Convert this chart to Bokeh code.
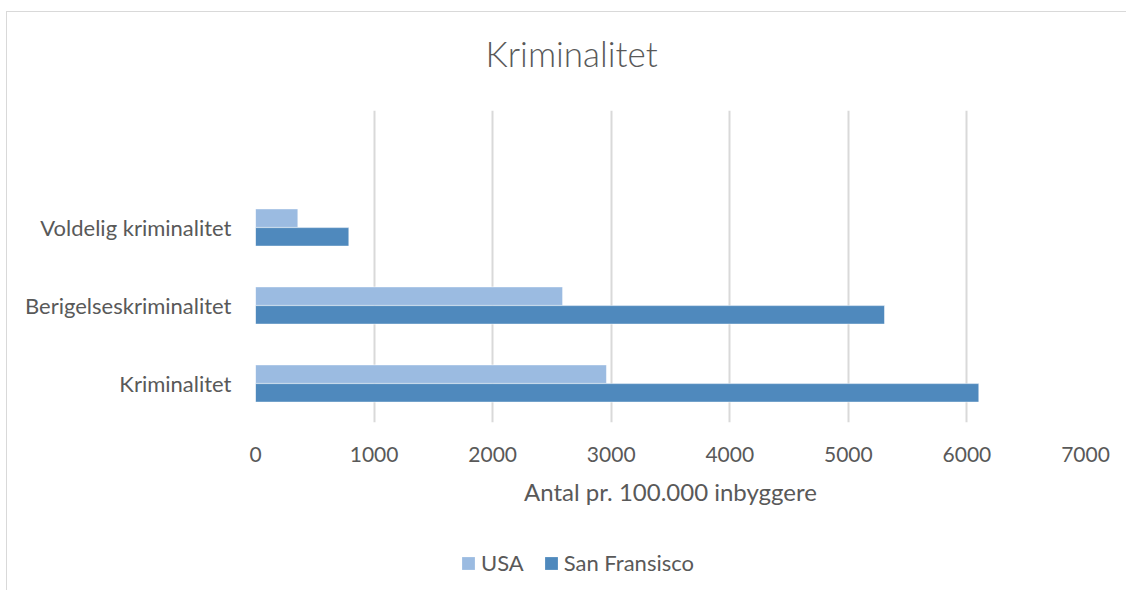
from bokeh.plotting import figure
from bokeh.layouts import column
from bokeh.models import ColumnDataSource, Legend, LegendItem, FixedTicker, Range1d
from bokeh.embed import file_html
from bokeh.resources import INLINE

# ---- data ----
categories = ["Kriminalitet", "Berigelseskriminalitet", "Voldelig kriminalitet"]
usa = [2960, 2590, 357]
san_fransisco = [6100, 5305, 787]
x_ticks = [0, 1000, 2000, 3000, 4000, 5000, 6000, 7000]
series_names = ["USA", "San Fransisco"]
chart_title = "Kriminalitet"
x_title = "Antal pr. 100.000 inbyggere"

FONT = "Lato"
TITLE_FONT = "Lato Light"
GRAY = "#595959"
C_USA = "#9BBBE1"
C_SF = "#4F89BD"

pos = [i + 0.5 for i in range(len(categories))]
src_usa = ColumnDataSource(dict(y=[p_ + 0.12 for p_ in pos], right=usa))
src_sf = ColumnDataSource(dict(y=[p_ - 0.12 for p_ in pos], right=san_fransisco))

# ---- title strip ----
tf = figure(width=1119, height=95, output_backend="svg", toolbar_location=None,
            x_range=Range1d(0, 1), y_range=Range1d(0, 1),
            x_axis_type=None, y_axis_type=None, min_border=0)
tf.outline_line_color = None
tf.grid.grid_line_color = None
tf.title.text = chart_title
tf.title.text_font = TITLE_FONT
tf.title.text_font_size = "35px"
tf.title.text_font_style = "normal"
tf.title.text_color = GRAY
tf.title.align = "left"
tf.title.offset = 230
tf.title.standoff = 35

# ---- main chart ----
p = figure(frame_width=830, frame_height=312, output_backend="svg", toolbar_location=None,
           x_range=Range1d(0, 7000), y_range=Range1d(0, 4),
           min_border_left=248, min_border_right=41, min_border_top=3,
           min_border_bottom=98)

r_usa = p.hbar(y="y", right="right", left=0, height=0.237, source=src_usa,
               fill_color=C_USA, line_color="white", line_alpha=0.5, line_width=1)
r_sf = p.hbar(y="y", right="right", left=0, height=0.237, source=src_sf,
              fill_color=C_SF, line_color="white", line_alpha=0.5, line_width=1)

p.outline_line_color = None
p.background_fill_color = "white"
p.border_fill_color = "white"

# x axis
xa = p.xaxis[0]
xa.ticker = FixedTicker(ticks=x_ticks)
xa.axis_line_color = None
xa.major_tick_line_color = None
xa.minor_tick_line_color = None
xa.major_tick_out = 0
xa.major_tick_in = 0
xa.major_label_text_font = FONT
xa.major_label_text_font_size = "21px"
xa.major_label_text_color = GRAY
xa.major_label_standoff = 24
xa.axis_label = x_title
xa.axis_label_text_font = FONT
xa.axis_label_text_font_size = "24px"
xa.axis_label_text_font_style = "normal"
xa.axis_label_text_color = GRAY
xa.axis_label_standoff = 12

# y axis
ya = p.yaxis[0]
ya.ticker = FixedTicker(ticks=pos)
ya.major_label_overrides = {p_: c for p_, c in zip(pos, categories)}
ya.axis_line_color = None
ya.major_tick_line_color = None
ya.minor_tick_line_color = None
ya.major_tick_out = 0
ya.major_tick_in = 0
ya.major_label_text_font = FONT
ya.major_label_text_font_size = "22px"
ya.major_label_text_color = GRAY
ya.major_label_standoff = 24

p.xgrid.grid_line_color = "#d9d9d9"
p.xgrid.grid_line_width = 2
p.ygrid.grid_line_color = None

# ---- legend strip (same series, data kept outside its view) ----
lg = figure(width=1119, height=70, output_backend="svg", toolbar_location=None,
            x_range=Range1d(0, 7000), y_range=Range1d(100, 101),
            x_axis_type=None, y_axis_type=None, min_border=0)
lg.outline_line_color = None
lg.grid.grid_line_color = None
g_usa = lg.hbar(y="y", right="right", left=0, height=0.237, source=src_usa,
                fill_color=C_USA, line_color=None)
g_sf = lg.hbar(y="y", right="right", left=0, height=0.237, source=src_sf,
               fill_color=C_SF, line_color=None)
legend = Legend(items=[LegendItem(label=series_names[0], renderers=[g_usa]),
                       LegendItem(label=series_names[1], renderers=[g_sf])],
                orientation="horizontal", location=(205, 14),
                label_text_font=FONT, label_text_font_size="22px",
                label_text_color=GRAY, glyph_width=16, glyph_height=16,
                label_standoff=5, spacing=19, border_line_color=None,
                background_fill_alpha=0, padding=4, margin=0)
lg.add_layout(legend, "center")

layout = column(tf, p, lg, margin=(11, 0, 0, 6),
                styles={"border-top": "1px solid #d9d9d9",
                        "border-left": "1px solid #d9d9d9"})

open("out.html", "w").write(file_html(layout, INLINE))
